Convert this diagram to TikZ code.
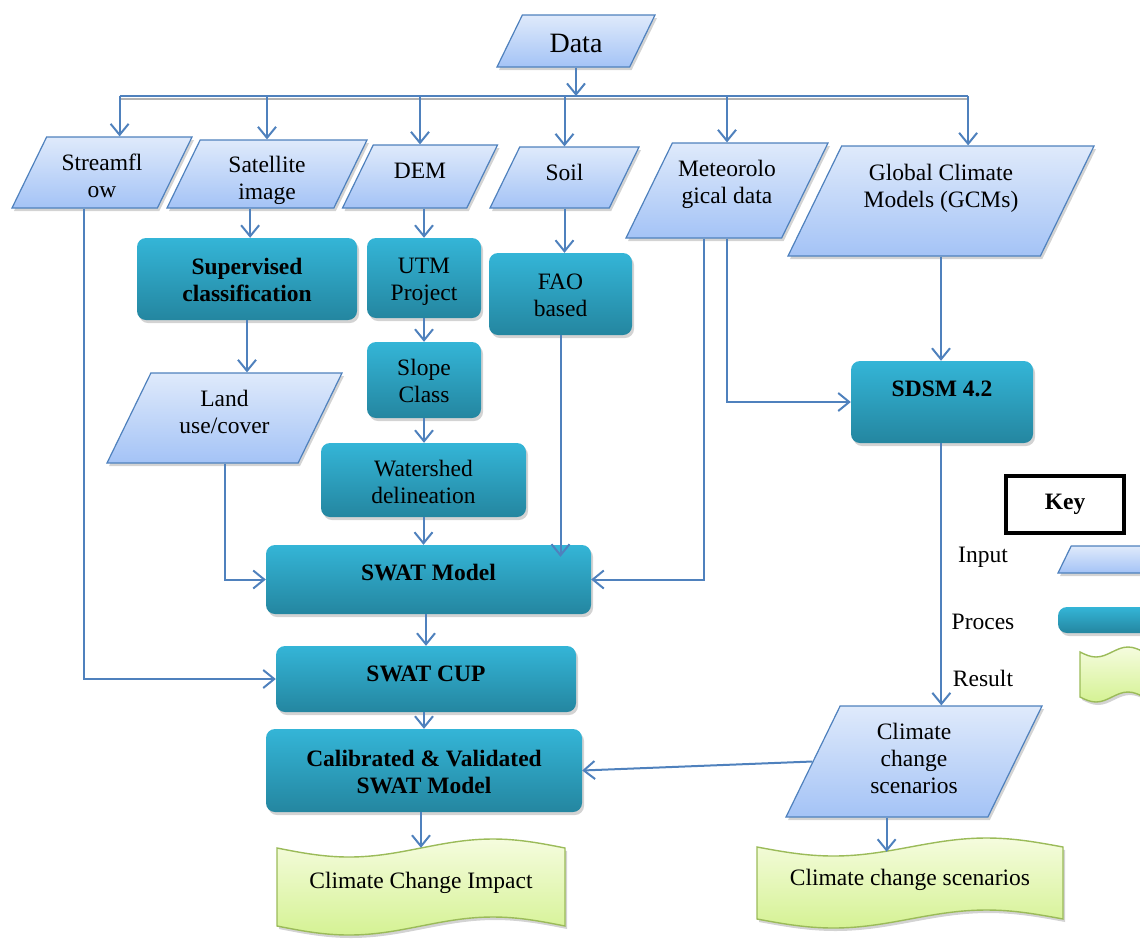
\documentclass[tikz,border=0pt]{standalone}
\usepackage{fontspec}
\setmainfont{Liberation Serif}
\usetikzlibrary{shapes.geometric,arrows.meta,shadows,calc}

\definecolor{linkblue}{RGB}{79,129,189}
\definecolor{inlight}{RGB}{223,234,251}
\definecolor{indark}{RGB}{164,195,246}
\definecolor{proclight}{RGB}{52,181,215}
\definecolor{procdark}{RGB}{36,134,160}
\definecolor{reslight}{RGB}{245,252,222}
\definecolor{resdark}{RGB}{213,242,148}
\definecolor{resedge}{RGB}{155,187,89}

\newcommand{\tx}[2][-4pt]{\raisebox{#1}[\height][\depth]{\begin{tabular}{@{}c@{}}#2\end{tabular}}}
\newcommand{\instrut}[1]{\rule[\dimexpr0.25em-#1/2\relax]{0pt}{#1}}

\tikzset{
  txt/.style={font=\fontsize{23.5pt}{27pt}\selectfont, inner sep=0pt},
  bold/.style={font=\fontsize{23.5pt}{27pt}\selectfont\bfseries},
  shade/.style={drop shadow={shadow xshift=2pt, shadow yshift=-3pt, opacity=0.35}},
  inbox/.style={txt, shade, trapezium, trapezium left angle=64, trapezium right angle=116,
    trapezium stretches body, draw=linkblue, line width=1.2pt, top color=inlight, bottom color=indark},
  procbox/.style={txt, shade, rectangle, rounded corners=9pt, top color=proclight, bottom color=procdark},
  tape/.style={shade, draw=resedge, line width=1.4pt, top color=reslight, bottom color=resdark},
  link/.style={draw=linkblue, line width=2pt},
  arr/.style={link, -{Straight Barb[length=11pt,width=18pt]}},
}

\begin{document}
\begin{tikzpicture}[x=1pt,y=-1pt]
        \useasboundingbox (0,0) rectangle (1140,938);
        \clip (0,0) rectangle (1140,938);
        \draw[tape] (277,848) sin (349,857) cos (421,848) sin (493,839) cos (565,848) -- (565,926) sin (493,917) cos (421,926) sin (349,935) cos (277,926) -- cycle;
        \draw[tape] (757,847) sin (833.5,856) cos (910,847) sin (986.5,838) cos (1063,847) -- (1063,919) sin (986.5,910) cos (910,919) sin (833.5,928) cos (757,919) -- cycle;
        \draw[tape] (1080,652) sin (1096,657) cos (1112,652) sin (1128,647) cos (1144,652) -- (1144,697) sin (1128,692) cos (1112,697) sin (1096,702) cos (1080,697) -- cycle;

        \node[inbox, minimum width=158, font=\fontsize{28pt}{32pt}\selectfont] (data) at (576,41) {\instrut{52pt}\tx{Data}};
        \node[inbox, minimum width=180] (stream) at (102,172.5) {\instrut{71pt}\tx[-6pt]{Streamfl\\ow}};
        \node[inbox, minimum width=200] (sat) at (267,174) {\instrut{68pt}\tx[-7pt]{Satellite\\image}};
        \node[inbox, minimum width=155] (dem) at (420,176.5) {\instrut{63pt}\tx[3pt]{DEM}};
        \node[inbox, minimum width=149] (soil) at (564.5,177.5) {\instrut{61pt}\tx[2pt]{Soil}};
        \node[inbox, minimum width=202] (met) at (727,190.5) {\instrut{95pt}\tx[6pt]{Meteorolo\\gical data}};
        \node[inbox, minimum width=306] (gcm) at (941,201) {\instrut{110pt}\tx[12pt]{Global Climate\\Models (GCMs)}};
        \node[inbox, minimum width=235] (land) at (224.5,418) {\instrut{90pt}\tx[3pt]{Land\\use/cover}};
        \node[inbox, minimum width=256] (ccs) at (914,761.5) {\instrut{111pt}\tx[0pt]{Climate\\change\\scenarios}};

        \node[procbox, bold, minimum width=220, minimum height=82] (sup) at (247,279) {\tx{Supervised\\classification}};
        \node[procbox, minimum width=114, minimum height=80] (utm) at (424,278) {\tx{UTM\\Project}};
        \node[procbox, minimum width=143, minimum height=82] (fao) at (560.5,294) {\tx{FAO\\based}};
        \node[procbox, minimum width=114, minimum height=76] (slope) at (424,380) {\tx{Slope\\Class}};
        \node[procbox, minimum width=205, minimum height=74] (wsd) at (423.5,480) {\tx[-5pt]{Watershed\\delineation}};
        \node[procbox, bold, minimum width=325, minimum height=69] (swat) at (428.5,579.5) {\tx[4pt]{SWAT Model}};
        \node[procbox, bold, minimum width=300, minimum height=66] (cup) at (426,679) {\tx[3pt]{SWAT CUP}};
        \node[procbox, bold, minimum width=316, minimum height=83] (cal) at (424,770.5) {\tx{Calibrated \& Validated\\SWAT Model}};
        \node[procbox, bold, minimum width=182, minimum height=82] (sdsm) at (942,402) {\tx[11pt]{SDSM 4.2}};

        \node[txt, minimum width=288, minimum height=78] (imp) at (421,887) {\tx[4pt]{Climate Change Impact}};
        \node[txt, minimum width=306, minimum height=72] (ccr) at (910,883) {\tx[3pt]{Climate change scenarios}};

        \node[txt, bold, draw=black, line width=3.5pt, fill=white, minimum width=118, minimum height=57] (key) at (1065,504.5) {Key};
        \node[txt] (kin) at (983,557) {Input};
        \node[txt] (kproc) at (983,622) {Proces};
        \node[txt] (kres) at (983,678) {Result};
        \node[inbox, minimum width=124] (kinbox) at (1120,559.5) {\instrut{27pt}};
        \node[procbox, minimum width=124, minimum height=26] (kprocbox) at (1120,620) {};

        \coordinate (bus) at (576,96);
        \draw[line width=1.8pt, black!30] ($(stream.top side |- bus)+(0,3)$) -- ($(gcm.top side |- bus)+(0,3)$);
        \draw[link] (stream.top side |- bus) -- (gcm.top side |- bus);
        \draw[arr] (data.center |- data.bottom side) -- (data.center |- bus);
        \draw[arr] (stream.top side |- bus) -- (stream.top side);
        \draw[arr] (sat.center |- bus) -- (sat.center |- sat.top side);
        \draw[arr] (dem.center |- bus) -- (dem.center |- dem.top side);
        \draw[arr] (soil.center |- bus) -- (soil.center |- soil.top side);
        \draw[arr] (met.center |- bus) -- (met.center |- met.top side);
        \draw[arr] (gcm.top side |- bus) -- (gcm.top side);

        \draw[arr] (stream.bottom side) |- (cup.west);
        \draw[arr] (sat.bottom side) -- (sat.bottom side |- sup.north);
        \draw[arr] (sup.south) -- (sup.south |- land.top side);
        \draw[arr] (land.center |- land.bottom side) |- (swat.west);
        \draw[arr] (utm.north |- dem.bottom side) -- (utm.north);
        \draw[arr] (utm.south) -- (slope.north);
        \draw[arr] (slope.south) -- (slope.south |- wsd.north);
        \draw[arr] (wsd.south) -- (wsd.south |- swat.north);
        \draw[arr] (soil.center |- soil.bottom side) -- (soil.center |- fao.north);
        \draw[arr] (fao.south) -- ($(fao.south |- swat.north)+(0,12)$);
        \draw[arr] (met.bottom side) |- (swat.east);
        \draw[arr] (met.center |- met.bottom side) |- (sdsm.west);
        \draw[arr] (gcm.center |- gcm.bottom side) -- (gcm.center |- sdsm.north);
        \draw[arr] (ccs.top side |- sdsm.south) -- (ccs.top side);
        \draw[arr] (ccs.left side) -- (cal.east);
        \draw[arr] (ccs.bottom side) -- ($(ccs.bottom side |- ccr.north)+(0,5)$);
        \draw[arr] (cup.north |- swat.south) -- (cup.north);
        \draw[arr] (cal.north |- cup.south) -- (cal.north);
        \draw[arr] (imp.north |- cal.south) -- (imp.north);
\end{tikzpicture}
\end{document}
